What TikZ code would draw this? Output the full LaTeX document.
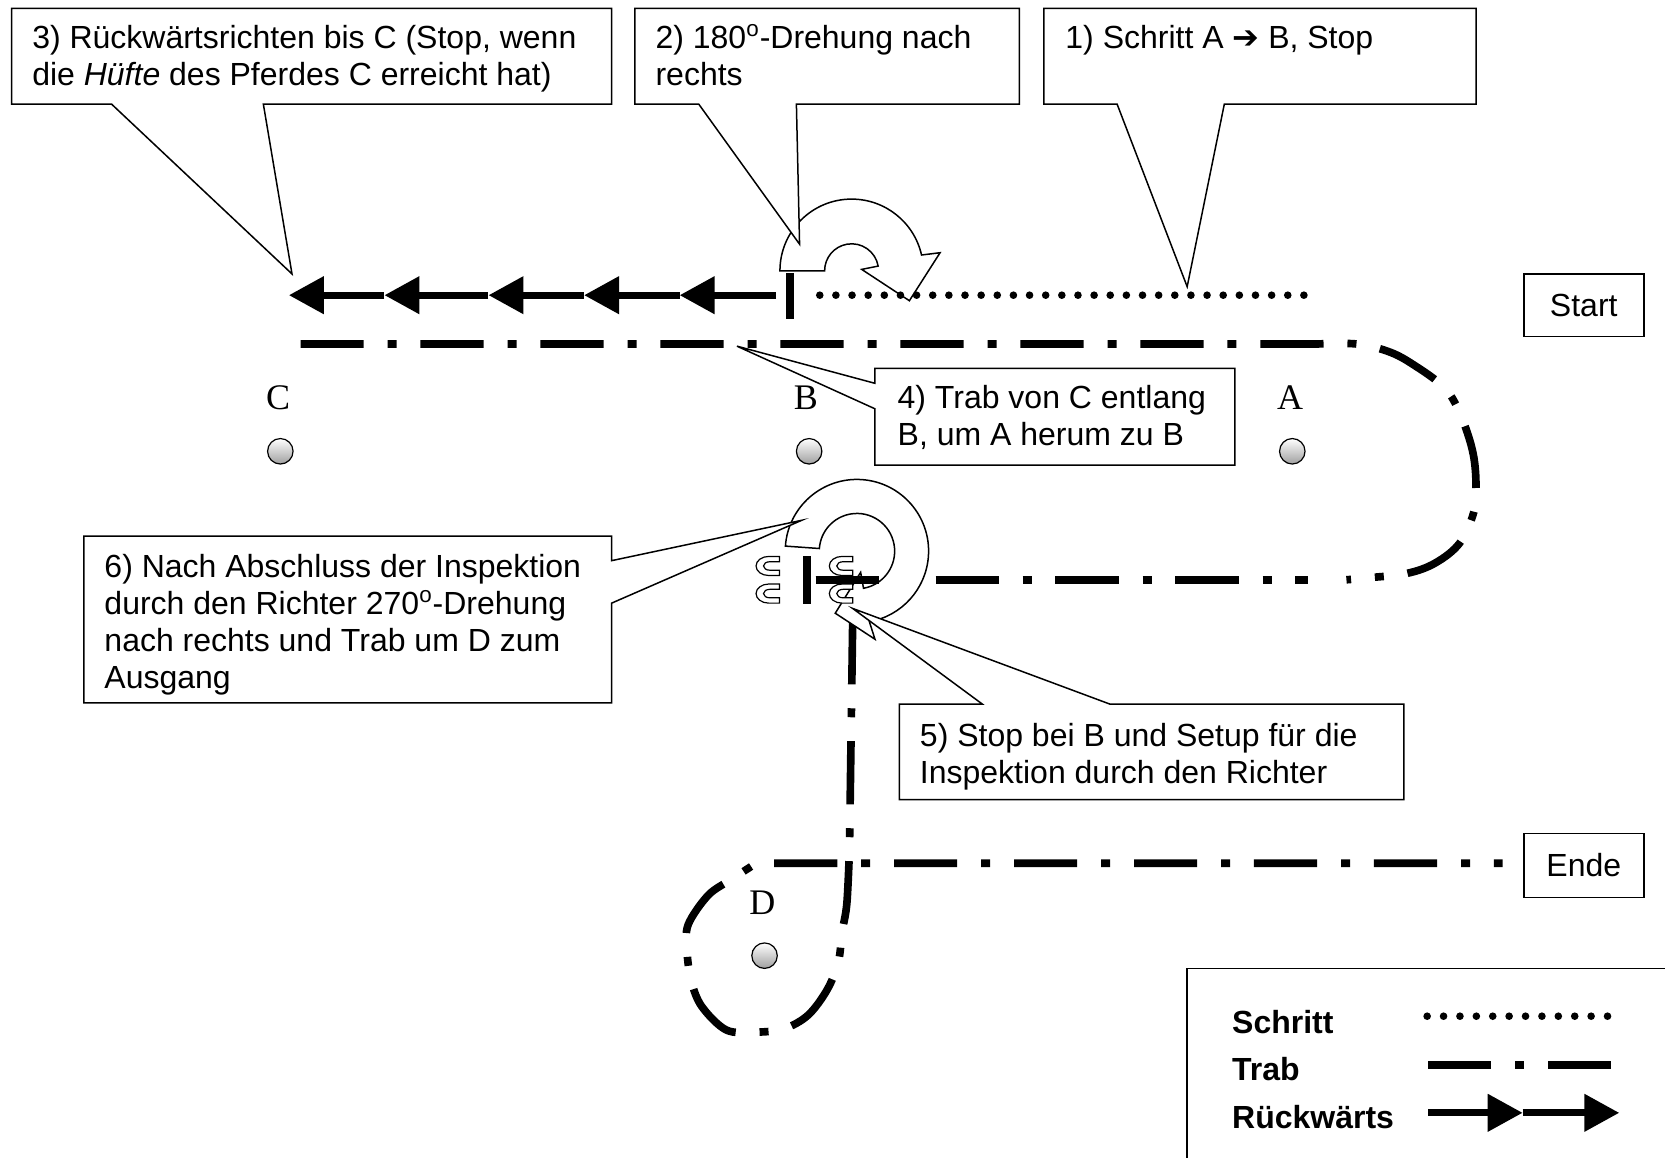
\documentclass[tikz,border=0pt]{standalone}
\usepackage{fontspec}
\setmainfont{Liberation Sans}
\newfontfamily\serifletters{Liberation Serif}
\newfontfamily\dingfont{DejaVu Sans}
\usetikzlibrary{arrows.meta}
\tikzset{
  box/.style={draw=black, line width=0.75pt, fill=white, line join=miter},
  txt/.style={anchor=base west, inner sep=0pt, font=\fontsize{16}{18.5}\selectfont},
  legtxt/.style={anchor=base west, inner sep=0pt, font=\fontsize{16}{18.5}\selectfont\bfseries},
  letter/.style={anchor=base, inner sep=0pt, font=\serifletters\fontsize{18}{20}\selectfont},
  trab/.style={line width=3.82pt, dash pattern=on 31.6pt off 11.95pt on 4.5pt off 11.95pt},
  schritt/.style={line width=3.8pt, line cap=round, dash pattern=on 0pt off 8.07pt},
  rueck/.style={line width=3.66pt, -{Triangle[length=17.5pt,width=18pt]}},
  turnarrow/.style={draw=black, line width=0.75pt, fill=white},
  hoof/.pic={\draw[line width=0.6pt, fill=white] (12,-9) -- (2,-9)
      arc[start angle=270, end angle=90, x radius=12, y radius=9] -- (12,9) -- (12,4) -- (3,4)
      arc[start angle=90, end angle=270, x radius=6, y radius=4] -- (12,-4) -- cycle;},
  marker/.style={draw=black, line width=0.6pt, top color=white, bottom color=gray!75}
}
\begin{document}
\begin{tikzpicture}[x=0.531pt, y=-0.531pt]
\useasboundingbox (0,0) rectangle (1568,1090);

% ---- Trab paths ----
\draw[trab] (283,324) -- (1240,324) -- plot[smooth, tension=0.6] coordinates {(1240,324) (1278,324) (1310,332) (1335,346) (1358,363) (1370,379) (1381,405) (1388,431) (1390,458) (1388,482) (1375,511) (1352,530) (1325,540) (1290,544) (1268,546)};
\draw[trab] (768,546) -- (1232,546);
\draw[trab] (803,585) -- (800,800) -- plot[smooth, tension=0.55] coordinates {(800,800) (797.5,851) (793,878) (789.5,906) (779,932) (761,956) (738,969) (711,972) (684,970) (661,948) (651,924) (647,896) (648,871) (667,843) (689,828) (712,813)} -- (1415,813);

% ---- 180 degree turn arrow ----
\draw[turnarrow] (734.5,255) arc[start angle=180, end angle=347.3, radius=67.5] -- (885.3,238) -- (856.4,283.2) -- (811.5,253.7) -- (827,250.6) arc[start angle=350, end angle=180, radius=25.4] -- cycle;

% ---- Schritt dotted line ----
\draw[schritt] (772,278) -- (1236,278);

% ---- Rueckwaerts arrows ----
\draw[rueck] (731,278) -- (640,278);
\draw[rueck] (640,278) -- (550,278);
\draw[rueck] (550,278) -- (460,278);
\draw[rueck] (460,278) -- (362,278);
\draw[rueck] (362,278) -- (272,278);
\draw[line width=4.25pt] (744,257) -- (744,300);

% ---- 270 degree turn arrow ----
\draw[turnarrow] (739.66,514.29) arc[start angle=184, end angle=440, radius=67.5] -- (824,602) -- (786.6,577.5) -- (810.5,539) -- (813.2,554) arc[start angle=440, end angle=184, radius=35.5] -- cycle;

% ---- hoof prints and stop bar ----
\pic at (722,533) {hoof};
\pic at (722,559) {hoof};
\pic at (791,533) {hoof};
\pic at (791,559) {hoof};
\draw[line width=3.9pt] (760,524) -- (760,569);
\draw[trab] (768,546) -- (830,546);

% ---- callouts ----
\draw[box] (11,8) -- (576,8) -- (576,98) -- (248,98) -- (275,258) -- (105,98) -- (11,98) -- cycle;
\node[txt] (t3) at (30,46) {\vtop{\hbox{3) Rückwärtsrichten bis C (Stop, wenn}\hbox{die \textit{Hüfte} des Pferdes C erreicht hat)}}};

\draw[box] (598,8) -- (960,8) -- (960,98) -- (750,98) -- (753,230) -- (658,98) -- (598,98) -- cycle;
\node[txt] (t2) at (617,46) {\vtop{\hbox{2) 180\textsuperscript{o}-Drehung nach}\hbox{rechts}}};

\draw[box] (983,8) -- (1390,8) -- (1390,98) -- (1153,98) -- (1118,270) -- (1052,98) -- (983,98) -- cycle;
\node[txt] (t1) at (1003,46) {1) Schritt A {\dingfont\bfseries ➔} B, Stop};

\draw[box] (824,347) -- (1163,347) -- (1163,438) -- (824,438) -- (824,385) -- (694,326) -- (824,361) -- cycle;
\node[txt] (t4) at (845,385) {\vtop{\hbox{4) Trab von C entlang}\hbox{B, um A herum zu B}}};

\draw[box] (79,505) -- (576,505) -- (576,528) -- (755,490) -- (576,568) -- (576,662) -- (79,662) -- cycle;
\node[txt] (t6) at (98,544) {\vtop{\hbox{6) Nach Abschluss der Inspektion}\hbox{durch den Richter 270\textsuperscript{o}-Drehung}\hbox{nach rechts und Trab um D zum}\hbox{Ausgang}}};

\draw[box] (847,663) -- (925,663) -- (803,573) -- (1045,663) -- (1322,663) -- (1322,753) -- (847,753) -- cycle;
\node[txt] (t5) at (866,703) {\vtop{\hbox{5) Stop bei B und Setup für die}\hbox{Inspektion durch den Richter}}};

% ---- Start / Ende ----
\node[draw, line width=0.75pt, minimum width=60pt, minimum height=31.3pt, inner sep=0pt, font=\fontsize{16}{18.5}\selectfont] (start) at (1491.5,287.5) {Start};
\node[draw, line width=0.75pt, minimum width=60pt, minimum height=31.9pt, inner sep=0pt, font=\fontsize{16}{18.5}\selectfont] (ende) at (1491.5,815) {Ende};

% ---- markers ----
\coordinate (pC) at (264,425);
\coordinate (pB) at (762,425);
\coordinate (pA) at (1217,425);
\coordinate (pD) at (720,900);
\shade[marker] (pC) circle[radius=12];
\shade[marker] (pB) circle[radius=12];
\shade[marker] (pA) circle[radius=12];
\shade[marker] (pD) circle[radius=12];
\node[letter] (lC) at (262,386) {C};
\node[letter] (lB) at (759,386) {B};
\node[letter] (lA) at (1215,386) {A};
\node[letter] (lD) at (718,861) {D};

% ---- legend ----
\draw[line width=0.75pt] (1580,912) -- (1118,912) -- (1118,1100);
\node[legtxt] (ls) at (1160,973) {Schritt};
\node[legtxt] (lt) at (1160,1018) {Trab};
\node[legtxt] (lr) at (1160,1063) {Rückwärts};
\draw[schritt, dash pattern=on 0pt off 8.2pt] (1344,957) -- (1516,957);
\draw[trab] (1345,1003) -- (1517.5,1003);
\draw[rueck] (1345,1048) -- (1434,1048);
\draw[rueck] (1434,1048) -- (1525,1048);
\end{tikzpicture}
\end{document}
